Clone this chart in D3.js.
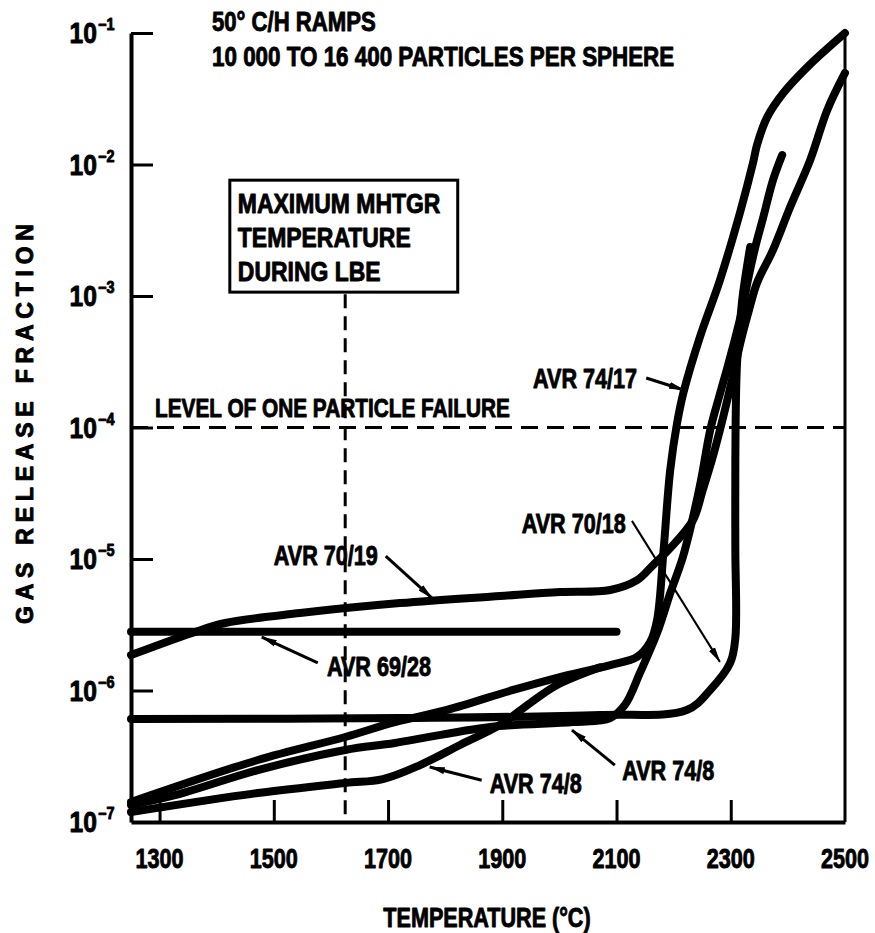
<!DOCTYPE html>
<html><head><meta charset="utf-8">
<script src="https://cdn.jsdelivr.net/npm/d3@7"></script>
<style>
html,body{margin:0;padding:0;background:#fff;}
svg{display:block;}
text{font-family:"Liberation Sans",Arial,sans-serif;font-weight:bold;fill:#000;stroke:#000;stroke-width:0.9px;stroke-linejoin:round;}
</style></head><body>
<svg id="chart" width="875" height="933"></svg>
<script>
// ---------- data ----------
const xTicks = [1300, 1500, 1700, 1900, 2100, 2300, 2500];
const yTicks = [1e-1, 1e-2, 1e-3, 1e-4, 1e-5, 1e-6, 1e-7];
const yTickExponents = ["−1", "−2", "−3", "−4", "−5", "−6", "−7"];
const titleLines = ["50° C/H RAMPS", "10 000 TO 16 400 PARTICLES PER SPHERE"];
const boxLines = ["MAXIMUM MHTGR", "TEMPERATURE", "DURING LBE"];
const xTitle = "TEMPERATURE (°C)";
const yTitle = "GAS RELEASE FRACTION";
const failureLabel = "LEVEL OF ONE PARTICLE FAILURE";
const failureLevel = 1e-4;
const maxLbeTemp = 1625;
const boxCorners = [[1423, 7.6e-3], [1822, 1.07e-3]];

const avr6928 = [[1250, 2.8e-6], [2100, 2.8e-6]];
const avr7019 = [[1250, 1.86e-6], [1357, 2.74e-6], [1415, 3.26e-6], [1546, 3.88e-6], [1721, 4.62e-6],
  [1896, 5.23e-6], [2001, 5.61e-6], [2089, 5.81e-6], [2136, 6.9e-6], [2164, 9.0e-6], [2194, 1.21e-5],
  [2234, 1.98e-5], [2251, 3.35e-5], [2267, 5.66e-5], [2281, 9.57e-5], [2294, 1.62e-4], [2306, 2.74e-4],
  [2318, 4.63e-4], [2332, 7.83e-4], [2346, 1.26e-3], [2374, 2.24e-3], [2404, 4.75e-3], [2439, 1.08e-2],
  [2469, 2.6e-2], [2500, 4.97e-2]];
const avr7018 = [[1250, 6.07e-7], [1721, 6.18e-7], [2071, 6.51e-7], [2223, 7.11e-7], [2264, 1.01e-6],
  [2299, 1.62e-6], [2308, 2.5e-6], [2308, 1.2e-5], [2308, 5.7e-5], [2311, 3.1e-4], [2320, 9.3e-4],
  [2334, 2.36e-3]];
const avr7417 = [[1250, 1.42e-7], [1472, 2.96e-7], [1625, 4.43e-7], [1712, 5.75e-7], [1803, 7.11e-7],
  [1919, 1.01e-6], [1996, 1.25e-6], [2089, 1.56e-6], [2136, 1.80e-6], [2159, 2.34e-6], [2171, 3.44e-6],
  [2182, 1.11e-5], [2194, 4.75e-5], [2206, 1.08e-4], [2217, 1.83e-4], [2246, 4.88e-4], [2281, 1.32e-3],
  [2316, 4.28e-3], [2339, 1.03e-2], [2346, 1.41e-2], [2364, 2.30e-2], [2392, 3.50e-2], [2434, 5.51e-2],
  [2500, 1e-1]];
const avr748a = [[1250, 1.35e-7], [1327, 1.60e-7], [1472, 2.48e-7], [1625, 3.53e-7], [1712, 3.99e-7],
  [1879, 5.28e-7], [2024, 5.75e-7], [2089, 6.18e-7], [2115, 7.8e-7], [2141, 1.36e-6], [2171, 2.74e-6],
  [2194, 5.5e-6], [2216, 1.03e-5], [2234, 2.09e-5], [2248, 3.99e-5], [2264, 9.57e-5], [2278, 1.62e-4],
  [2293, 2.74e-4], [2307, 4.63e-4], [2320, 7.83e-4], [2330, 1.32e-3], [2343, 2.36e-3], [2357, 3.99e-3],
  [2374, 7.62e-3], [2390, 1.18e-2]];
const avr748b = [[1250, 1.19e-7], [1472, 1.66e-7], [1625, 1.98e-7], [1691, 2.12e-7], [1756, 2.71e-7],
  [1826, 3.85e-7], [1896, 5.47e-7], [1949, 8.04e-7], [1996, 1.1e-6], [2071, 1.5e-6]];
const seriesList = [avr6928, avr7019, avr7018, avr7417, avr748a, avr748b];

// label text, label anchor (T, fraction), arrow from (T, fraction) to (T, fraction)
const annotations = [
  {text: "AVR 74/17", at: [1954, 2.0e-4], from: [2152, 2.38e-4], to: [2218, 1.93e-4], thin: false},
  {text: "AVR 70/18", at: [1934, 1.58e-5], from: [2127, 1.95e-5], to: [2281, 1.65e-6], thin: true},
  {text: "AVR 70/19", at: [1500, 9.0e-6], from: [1696, 1.05e-5], to: [1777, 5.05e-6], thin: false},
  {text: "AVR 69/28", at: [1593, 1.29e-6], from: [1577, 1.62e-6], to: [1479, 2.55e-6], thin: false},
  {text: "AVR 74/8", at: [1878, 1.66e-7], from: [1864, 2.08e-7], to: [1773, 2.62e-7], thin: false},
  {text: "AVR 74/8", at: [2110, 2.08e-7], from: [2097, 2.71e-7], to: [2022, 5.0e-7], thin: false}
];

// ---------- drawing ----------
const svg = d3.select("#chart");
const x = d3.scaleLinear().domain([1250, 2500]).range([131, 845]);
const y = d3.scaleLog().domain([1e-7, 1e-1]).range([822, 33]);
const FS = 27, SX = 0.8;

const defs = svg.append("defs");
defs.append("marker").attr("id", "ah").attr("viewBox", "0 0 16 8")
  .attr("refX", 15).attr("refY", 4).attr("markerWidth", 16).attr("markerHeight", 8)
  .attr("markerUnits", "userSpaceOnUse").attr("orient", "auto")
  .append("path").attr("d", "M0,0.5 L16,4 L0,7.5 Z").attr("fill", "#000");

function sqText(g, px, py, txt, size, sx, anchor) {
  return g.append("text").attr("transform", `translate(${px},${py}) scale(${sx},1)`)
    .attr("font-size", size).attr("text-anchor", anchor || "start").text(txt);
}

// axes
const xAxis = d3.axisBottom(x).tickValues(xTicks.slice(0, -1)).tickSizeInner(-22).tickSizeOuter(0).tickFormat("");
const gx = svg.append("g").attr("transform", `translate(0,${y(1e-7)})`).call(xAxis);
gx.select(".domain").attr("stroke-width", 4).attr("stroke", "#000");
gx.selectAll(".tick line").attr("stroke-width", 3).attr("stroke", "#000");

const yAxis = d3.axisLeft(y).tickValues(yTicks.slice(0, -1)).tickSizeInner(-22).tickSizeOuter(0).tickFormat("");
const gy = svg.append("g").attr("transform", `translate(${x(1250)},0)`).call(yAxis);
gy.select(".domain").attr("stroke-width", 4).attr("stroke", "#000");
gy.selectAll(".tick line").attr("stroke-width", 3).attr("stroke", "#000");

svg.append("line").attr("x1", x(2500)).attr("x2", x(2500)).attr("y1", y(1e-1)).attr("y2", y(1e-7))
  .attr("stroke", "#000").attr("stroke-width", 3);

// tick labels
const gxl = svg.append("g");
xTicks.forEach(t => sqText(gxl, x(t), y(1e-7) + 46, String(t), FS, SX, "middle"));
const gyl = svg.append("g");
yTicks.forEach((t, i) => {
  sqText(gyl, 97, y(t) + 10, "10", 29, 0.85, "end");
  sqText(gyl, 98, y(t) - 3, yTickExponents[i], 16, 0.9, "start");
});

// axis titles
sqText(svg, 487, 927, xTitle, FS, SX, "middle");
svg.append("text").attr("transform", `translate(33,424) rotate(-90)`)
  .attr("font-size", 23).attr("text-anchor", "middle")
  .attr("textLength", 400).attr("lengthAdjust", "spacing").text(yTitle);

// title
sqText(svg, 212, 31, titleLines[0], FS, 0.82);
sqText(svg, 212, 66, titleLines[1], FS, 0.83);

// box
const bx0 = x(boxCorners[0][0]), by0 = y(boxCorners[0][1]), bx1 = x(boxCorners[1][0]), by1 = y(boxCorners[1][1]);
svg.append("rect").attr("x", bx0).attr("y", by0).attr("width", bx1 - bx0).attr("height", by1 - by0)
  .attr("fill", "none").attr("stroke", "#000").attr("stroke-width", 3);
boxLines.forEach((s, i) => sqText(svg, bx0 + 8, by0 + 33 + i * 34, s, FS, 0.85));

// reference lines
svg.append("line").attr("x1", x(maxLbeTemp)).attr("x2", x(maxLbeTemp)).attr("y1", by1 + 2).attr("y2", y(1e-7))
  .attr("stroke", "#000").attr("stroke-width", 3).attr("stroke-dasharray", "14,8");
svg.append("line").attr("x1", x(1250)).attr("x2", x(2500)).attr("y1", y(failureLevel)).attr("y2", y(failureLevel))
  .attr("stroke", "#000").attr("stroke-width", 3).attr("stroke-dasharray", "17,9");
sqText(svg, x(1292), y(failureLevel) - 11, failureLabel, 26, 0.8);

// curves
const line = d3.line().x(d => x(d[0])).y(d => y(d[1])).curve(d3.curveCatmullRom.alpha(0.5));
svg.append("g").selectAll("path").data(seriesList).join("path")
  .attr("d", line).attr("fill", "none").attr("stroke", "#000").attr("stroke-width", 8)
  .attr("stroke-linecap", "round").attr("stroke-linejoin", "round");

// annotations
const ga = svg.append("g");
annotations.forEach(a => {
  sqText(ga, x(a.at[0]), y(a.at[1]), a.text, FS, 0.8);
  ga.append("line").attr("x1", x(a.from[0])).attr("y1", y(a.from[1]))
    .attr("x2", x(a.to[0])).attr("y2", y(a.to[1]))
    .attr("stroke", "#000").attr("stroke-width", a.thin ? 2 : 3).attr("marker-end", "url(#ah)");
});
</script>
</body></html>
